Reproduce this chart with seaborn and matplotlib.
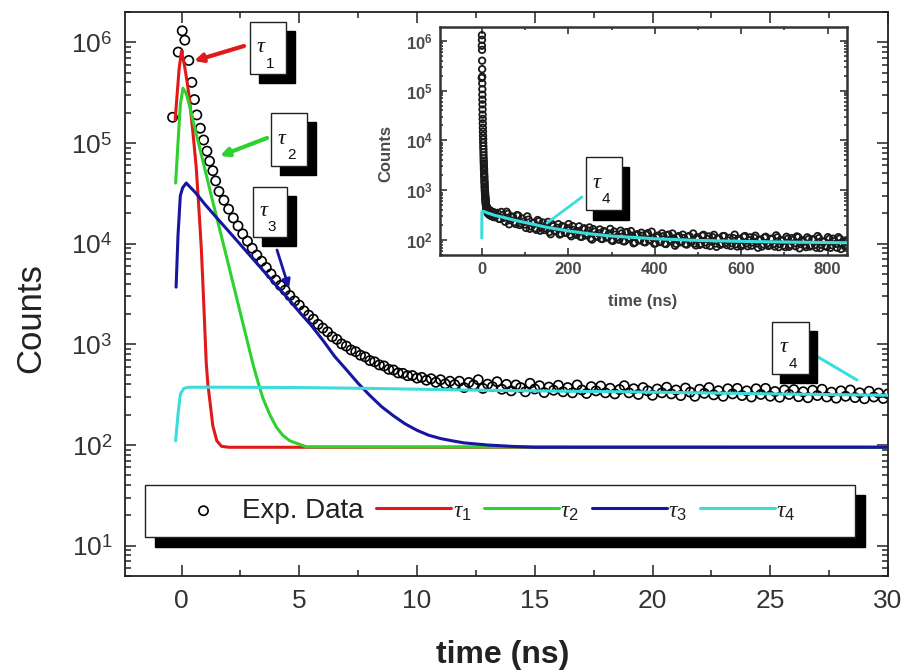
import matplotlib
matplotlib.use("Agg")
import numpy as np
import pandas as pd
import matplotlib.pyplot as plt
import seaborn as sns
from matplotlib.patches import Rectangle, FancyArrowPatch
from matplotlib.ticker import LogLocator, FuncFormatter, NullFormatter, MultipleLocator

# ---------------- data ----------------
# experimental decay, main panel (ns, counts)
t_data = [-0.38, -0.14, 0.03, 0.14, 0.31, 0.44, 0.55, 0.65, 0.80, 0.94, 1.08, 1.19, 1.33, 1.45, 1.59,
          1.8, 2.0, 2.2, 2.4, 2.6, 2.8, 3.0, 3.2, 3.4, 3.6,
          3.8, 4.0, 4.2, 4.4, 4.6, 4.8, 5.0, 5.2, 5.4, 5.6,
          5.8, 6.0, 6.2, 6.4, 6.6, 6.8, 7.0, 7.2, 7.4, 7.6,
          7.8, 8.0, 8.2, 8.4, 8.6, 8.8, 9.0, 9.2, 9.4, 9.6,
          9.8, 10.0, 10.2, 10.4, 10.6, 10.8, 11.0, 11.2, 11.4, 11.6,
          11.8, 12.0, 12.2, 12.4, 12.6, 12.8, 13.0, 13.2, 13.4, 13.6,
          13.8, 14.0, 14.2, 14.4, 14.6, 14.8, 15.0, 15.2, 15.4, 15.6,
          15.8, 16.0, 16.2, 16.4, 16.6, 16.8, 17.0, 17.2, 17.4, 17.6,
          17.8, 18.0, 18.2, 18.4, 18.6, 18.8, 19.0, 19.2, 19.4, 19.6,
          19.8, 20.0, 20.2, 20.4, 20.6, 20.8, 21.0, 21.2, 21.4, 21.6,
          21.8, 22.0, 22.2, 22.4, 22.6, 22.8, 23.0, 23.2, 23.4, 23.6,
          23.8, 24.0, 24.2, 24.4, 24.6, 24.8, 25.0, 25.2, 25.4, 25.6,
          25.8, 26.0, 26.2, 26.4, 26.6, 26.8, 27.0, 27.2, 27.4, 27.6,
          27.8, 28.0, 28.2, 28.4, 28.6, 28.8, 29.0, 29.2, 29.4, 29.6,
          29.8, 30.0]
counts_data = [1.8e5, 8.0e5, 1.3e6, 1.05e6, 6.6e5, 4.0e5, 2.7e5, 1.9e5, 1.4e5, 1.07e5, 8.3e4, 6.6e4, 5.3e4, 4.2e4, 3.3e4,
               27000, 22000, 18000, 15000, 12500, 10600, 9000, 7700, 6700, 5800,
               5000, 4350, 3850, 3450, 3050, 2700, 2450, 2150, 1950, 1780,
               1580, 1450, 1330, 1190, 1120, 1010, 960, 880, 845, 780,
               750, 690, 670, 625, 610, 565, 556, 520, 515, 488,
               490, 462, 470, 440, 455, 420, 445, 405, 430, 398,
               430, 372, 418, 395, 445, 365, 402, 380, 425, 358,
               400, 345, 395, 372, 338, 410, 360, 388, 332, 376,
               350, 392, 338, 372, 330, 395, 352, 325, 380, 345,
               385, 330, 366, 322, 356, 388, 330, 362, 318, 372,
               345, 312, 360, 330, 375, 322, 352, 310, 368, 335,
               305, 358, 326, 372, 315, 346, 305, 362, 322, 365,
               310, 345, 300, 362, 318, 365, 305, 340, 298, 352,
               318, 355, 302, 338, 295, 350, 310, 358, 300, 335,
               292, 345, 305, 352, 296, 330, 288, 342, 300, 328,
               290, 322]

# long tail of the decay, inset (ns, counts) - two interleaved channel sets
t_tail = [36, 42, 48, 54, 60, 66, 72, 78, 84, 90,
          96, 102, 108, 114, 120, 126, 132, 138, 144, 150,
          156, 162, 168, 174, 180, 186, 192, 198, 204, 210,
          216, 222, 228, 234, 240, 246, 252, 258, 264, 270,
          276, 282, 288, 294, 300, 306, 312, 318, 324, 330,
          336, 342, 348, 354, 360, 366, 372, 378, 384, 390,
          396, 402, 408, 414, 420, 426, 432, 438, 444, 450,
          456, 462, 468, 474, 480, 486, 492, 498, 504, 510,
          516, 522, 528, 534, 540, 546, 552, 558, 564, 570,
          576, 582, 588, 594, 600, 606, 612, 618, 624, 630,
          636, 642, 648, 654, 660, 666, 672, 678, 684, 690,
          696, 702, 708, 714, 720, 726, 732, 738, 744, 750,
          756, 762, 768, 774, 780, 786, 792, 798, 804, 810,
          816, 822, 828, 834, 840, 846]
counts_tail = [350, 264, 315, 232, 336, 250, 290, 210, 310, 216,
               232, 175, 257, 187, 222, 160, 238, 179, 159, 202,
               145, 209, 154, 176, 129, 190, 140, 172, 128, 190,
               138, 151, 117, 166, 124, 154, 108, 165, 120, 136,
               106, 151, 113, 135, 99, 148, 113, 102, 136, 94,
               144, 104, 122, 89, 131, 99, 122, 90, 137, 100,
               110, 86, 123, 92, 119, 83, 128, 94, 108, 84,
               120, 92, 109, 81, 120, 93, 85, 114, 80, 122,
               89, 105, 76, 114, 85, 107, 80, 120, 88, 98,
               76, 109, 83, 106, 75, 116, 85, 99, 77, 111,
               85, 100, 74, 112, 86, 79, 105, 74, 113, 83,
               98, 72, 106, 80, 100, 75, 114, 83, 92, 72,
               104, 78, 101, 70, 109, 80, 93, 73, 105, 79,
               95, 70, 106, 82, 75, 100]
t_tail_b = [39, 45, 51, 57, 63, 69, 75, 81, 87, 93,
            99, 105, 111, 117, 123, 129, 135, 141, 147, 153,
            159, 165, 171, 177, 183, 189, 195, 201, 207, 213,
            219, 225, 231, 237, 243, 249, 255, 261, 267, 273,
            279, 285, 291, 297, 303, 309, 315, 321, 327, 333,
            339, 345, 351, 357, 363, 369, 375, 381, 387, 393,
            399, 405, 411, 417, 423, 429, 435, 441, 447, 453,
            459, 465, 471, 477, 483, 489, 495, 501, 507, 513,
            519, 525, 531, 537, 543, 549, 555, 561, 567, 573,
            579, 585, 591, 597, 603, 609, 615, 621, 627, 633,
            639, 645, 651, 657, 663, 669, 675, 681, 687, 693,
            699, 705, 711, 717, 723, 729, 735, 741, 747, 753,
            759, 765, 771, 777, 783, 789, 795, 801, 807, 813,
            819, 825, 831, 837, 843]
counts_tail_b = [268, 366, 280, 370, 207, 295, 229, 315, 200, 271,
                 205, 298, 168, 219, 173, 252, 154, 224, 173, 231,
                 131, 189, 149, 208, 134, 184, 141, 209, 119, 159,
                 127, 188, 116, 172, 134, 179, 102, 147, 116, 163,
                 105, 146, 113, 167, 96, 128, 103, 154, 95, 142,
                 111, 151, 86, 125, 99, 140, 91, 127, 99, 147,
                 84, 113, 91, 136, 85, 126, 100, 135, 77, 113,
                 90, 128, 83, 116, 90, 135, 78, 105, 84, 127,
                 79, 118, 93, 127, 73, 107, 85, 120, 79, 110,
                 86, 128, 74, 100, 81, 120, 75, 113, 89, 122,
                 70, 102, 82, 116, 76, 106, 83, 124, 72, 97,
                 78, 116, 73, 109, 86, 118, 68, 99, 79, 113,
                 74, 104, 80, 120, 69, 93, 76, 114, 70, 106,
                 84, 114, 66, 97, 77]

# fitted components
tau1_t = [-0.27, -0.1, 0.0, 0.13, 0.24, 0.34, 0.48, 0.62, 0.73, 0.84, 0.91, 0.98, 1.05, 1.12, 1.2, 1.33, 1.5, 1.7, 2.0, 30.0]
tau1_y = [1.7e5, 5.5e5, 8.2e5, 5.8e5, 4.0e5, 2.7e5, 1.3e5, 5.9e4, 2.4e4, 9.0e3, 3.9e3, 1.6e3, 650, 400, 280, 155, 110, 97, 95, 95]

tau2_t = [-0.25, -0.15, -0.05, 0.06, 0.2, 0.35, 0.5, 0.77, 1.0, 1.25, 1.5, 1.75, 2.0, 2.26, 2.5, 2.68, 2.85, 3.04,
          3.25, 3.46, 3.75, 4.03, 4.3, 4.6, 5.3, 30.0]
tau2_y = [4.0e4, 1.0e5, 2.4e5, 3.5e5, 3.1e5, 2.3e5, 1.62e5, 9.0e4, 5.4e4, 3.1e4, 1.8e4, 1.05e4, 6.1e3, 3.45e3, 2.04e3,
          1.38e3, 950, 627, 420, 290, 200, 150, 125, 110, 96, 95]

tau3_t = [-0.23, -0.15, -0.05, 0.05, 0.2, 0.6, 1.0, 1.5, 2.0, 2.5, 3.0, 3.5, 4.0, 4.5, 5.0, 5.5, 6.0, 6.5, 7.0,
          7.5, 8.0, 8.5, 9.0, 9.5, 10.0, 10.5, 11.0, 11.5, 12.0, 13.0, 14.0, 15.0, 30.0]
tau3_y = [3.7e3, 1.2e4, 3.0e4, 3.6e4, 4.0e4, 3.2e4, 2.45e4, 1.8e4, 1.33e4, 9.8e3, 7.2e3, 5.3e3, 3.9e3, 2.9e3, 2.1e3,
          1.55e3, 1.1e3, 760, 560, 410, 310, 240, 195, 162, 140, 125, 116, 110, 105, 100, 97, 95, 95]

tau4_t = [-0.25, -0.15, -0.05, 0.1, 0.3, 2, 5, 8, 12, 15, 20, 25, 30, 50, 75, 100, 150, 200, 250, 300, 400,
          500, 600, 700, 850]
tau4_y = [110, 200, 320, 365, 375, 375, 372, 365, 352, 345, 335, 322, 312, 285, 250, 225, 180, 152, 133, 120,
          106, 98, 94, 91, 88]

legend_labels = ["Exp. Data", r"$\tau_{1}$", r"$\tau_{2}$", r"$\tau_{3}$", r"$\tau_{4}$"]

# ---------------- style ----------------
sns.set_theme(style="ticks")
plt.rcParams["font.family"] = ["Liberation Sans", "DejaVu Sans"]
plt.rcParams["mathtext.fontset"] = "custom"
plt.rcParams["mathtext.rm"] = "Liberation Sans"
plt.rcParams["mathtext.it"] = "Liberation Serif:italic"
plt.rcParams["mathtext.bf"] = "Liberation Sans:bold"

RED, GREEN, BLUE, CYAN = "#e01a1a", "#2fd12f", "#1616a2", "#3ddcdc"
W, H = 904, 670

fig = plt.figure(figsize=(W / 100, H / 100), dpi=100)
fig.patch.set_facecolor("white")

ax = fig.add_axes([125 / W, 1 - 576 / H, (888 - 125) / W, (576 - 12) / H])

sns.scatterplot(x=t_data, y=counts_data, ax=ax, marker="o", s=44, color="none",
                edgecolor="black", linewidth=1.2, zorder=2, legend=False)
sc_handle = ax.collections[-1]
lines = []
for tt, yy, c in [(tau1_t, tau1_y, RED), (tau2_t, tau2_y, GREEN),
                  (tau3_t, tau3_y, BLUE), (tau4_t, tau4_y, CYAN)]:
    sns.lineplot(x=tt, y=yy, ax=ax, color=c, lw=2.2, sort=False, estimator=None, zorder=3, legend=False)
    lines.append(ax.lines[-1])

ax.set_yscale("log")
ax.set_xlim(-2.4, 30)
ax.set_ylim(5, 2.0e6)
ax.xaxis.set_major_locator(MultipleLocator(5))
ax.xaxis.set_minor_locator(MultipleLocator(2.5))
ax.yaxis.set_major_locator(LogLocator(base=10, numticks=20))
ax.yaxis.set_minor_locator(LogLocator(base=10, subs=np.arange(2, 10), numticks=20))
ax.yaxis.set_minor_formatter(NullFormatter())
ax.yaxis.set_major_formatter(FuncFormatter(lambda v, p: r"$10^{%d}$" % int(round(np.log10(v)))))
ax.tick_params(which="both", direction="in", top=True, right=True, colors="#222222", width=1.1)
ax.tick_params(which="major", length=8, labelsize=19, labelcolor="#333333")
ax.tick_params(which="minor", length=4.5)
ax.tick_params(axis="x", which="major", pad=9)
ax.tick_params(axis="y", which="major", pad=9)
for sp in ax.spines.values():
    sp.set_linewidth(1.3)
    sp.set_color("#222222")

ax.set_xlabel("time (ns)", fontsize=23, fontweight="bold", color="#222222")
ax.set_ylabel("Counts", fontsize=25, color="#222222")
ax.xaxis.set_label_coords(0.495, -0.113)
ax.yaxis.set_label_coords(-0.102, 0.457)

# legend with a shadowed box
box_x0, box_x1 = (145 - 125) / 763, (855 - 125) / 763
box_y0, box_y1 = (576 - 537) / 564, (576 - 485) / 564
ax.add_patch(Rectangle((box_x0 + 10 / 763, box_y0 - 10 / 564), box_x1 - box_x0, box_y1 - box_y0,
                       transform=ax.transAxes, facecolor="black", edgecolor="black", zorder=6, clip_on=False))
ax.add_patch(Rectangle((box_x0, box_y0), box_x1 - box_x0, box_y1 - box_y0,
                       transform=ax.transAxes, facecolor="white", edgecolor="#222222", lw=1.0, zorder=7,
                       clip_on=False))
leg = ax.legend([sc_handle] + lines, legend_labels, ncol=5, loc="center left",
                bbox_to_anchor=((166 - 125) / 763, (576 - 511) / 564), frameon=False, fontsize=20,
                handlelength=2.7, handletextpad=0.05, columnspacing=0.45, borderpad=0, borderaxespad=0,
                scatterpoints=1)
leg.set_zorder(8)
for i, txt in enumerate(leg.get_texts()):
    txt.set_color("#222222")
    if i > 0:
        txt.set_fontsize(17)

# ---------------- inset ----------------
axi = fig.add_axes([440 / W, 1 - 255 / H, (847 - 440) / W, (255 - 27) / H])
sns.scatterplot(x=t_data + t_tail + t_tail_b, y=counts_data + counts_tail + counts_tail_b, ax=axi,
                marker="o", s=22, color="none", edgecolor="#1a1a1a", linewidth=1.3, zorder=2, legend=False)
sns.lineplot(x=tau4_t, y=tau4_y, ax=axi, color=CYAN, lw=2.2, sort=False, estimator=None, zorder=3, legend=False)
axi.set_yscale("log")
axi.set_xlim(-97, 845)
axi.set_ylim(50, 1.9e6)
axi.xaxis.set_major_locator(MultipleLocator(200))
axi.xaxis.set_minor_locator(MultipleLocator(100))
axi.yaxis.set_major_locator(LogLocator(base=10, numticks=20))
axi.yaxis.set_minor_locator(LogLocator(base=10, subs=np.arange(2, 10), numticks=20))
axi.yaxis.set_minor_formatter(NullFormatter())
axi.yaxis.set_major_formatter(FuncFormatter(lambda v, p: r"$\mathbf{10^{%d}}$" % int(round(np.log10(v)))))
axi.tick_params(which="both", direction="in", top=True, right=True, colors="#333333", width=1.2)
axi.tick_params(which="major", length=5, labelsize=12, labelcolor="#4a4a4a", pad=5)
axi.tick_params(which="minor", length=2.5)
for lab in axi.get_xticklabels():
    lab.set_fontweight("bold")
for sp in axi.spines.values():
    sp.set_linewidth(1.8)
    sp.set_color("#333333")
axi.set_xlabel("time (ns)", fontsize=12, fontweight="bold", color="#4a4a4a")
axi.set_ylabel("Counts", fontsize=12, fontweight="bold", color="#4a4a4a")
axi.xaxis.set_label_coords(0.499, -0.17)
axi.yaxis.set_label_coords(-0.115, 0.443)


# ---------------- annotation boxes ----------------
def fx(x):
    return x / W


def fy(y):
    return 1 - y / H


def tau_box(x0, y0, x1, y1, sub, dx=9, dy=9, tsize=16, ssize=11):
    w = (x1 - x0) / W
    h = (y1 - y0) / H
    fig.add_artist(Rectangle((fx(x0 + dx), fy(y1 + dy)), w, h, transform=fig.transFigure,
                             facecolor="black", edgecolor="black", zorder=10))
    fig.add_artist(Rectangle((fx(x0), fy(y1)), w, h, transform=fig.transFigure,
                             facecolor="white", edgecolor="#222222", lw=1.0, zorder=11))
    fig.text(fx(x0 + 0.3 * (x1 - x0)), fy(y0 + 0.5 * (y1 - y0)), "τ", family="Liberation Serif",
             style="italic", fontsize=tsize, ha="center", va="center", color="#111111", zorder=12)
    fig.text(fx(x0 + 0.56 * (x1 - x0)), fy(y0 + 0.8 * (y1 - y0)), sub, fontsize=ssize,
             ha="center", va="center", color="#111111", zorder=12)


def pointer(x1, y1, x2, y2, color, lw=2.5, head=True):
    fig.add_artist(FancyArrowPatch((fx(x1), fy(y1)), (fx(x2), fy(y2)), transform=fig.transFigure,
                                   arrowstyle="-|>" if head else "-", mutation_scale=12, color=color,
                                   lw=lw, shrinkA=0, shrinkB=0, zorder=9))


tau_box(250, 22, 286, 74, "1")
pointer(244, 46, 194, 61, RED, lw=3)
tau_box(271, 113, 307, 166, "2")
pointer(267, 138, 220, 156, GREEN, lw=3)
tau_box(253, 187, 287, 237, "3")
pointer(277, 250, 289, 288, BLUE, lw=2)
tau_box(772, 322, 809, 374, "4", dx=8, dy=9)
pointer(818, 357, 857, 380, CYAN, lw=2.2, head=False)
tau_box(586, 157, 622, 210, "4", dx=7, dy=10)
pointer(582, 197, 547, 223, CYAN, lw=2.0, head=False)

fig.savefig("out.png", dpi=100, facecolor="white")
